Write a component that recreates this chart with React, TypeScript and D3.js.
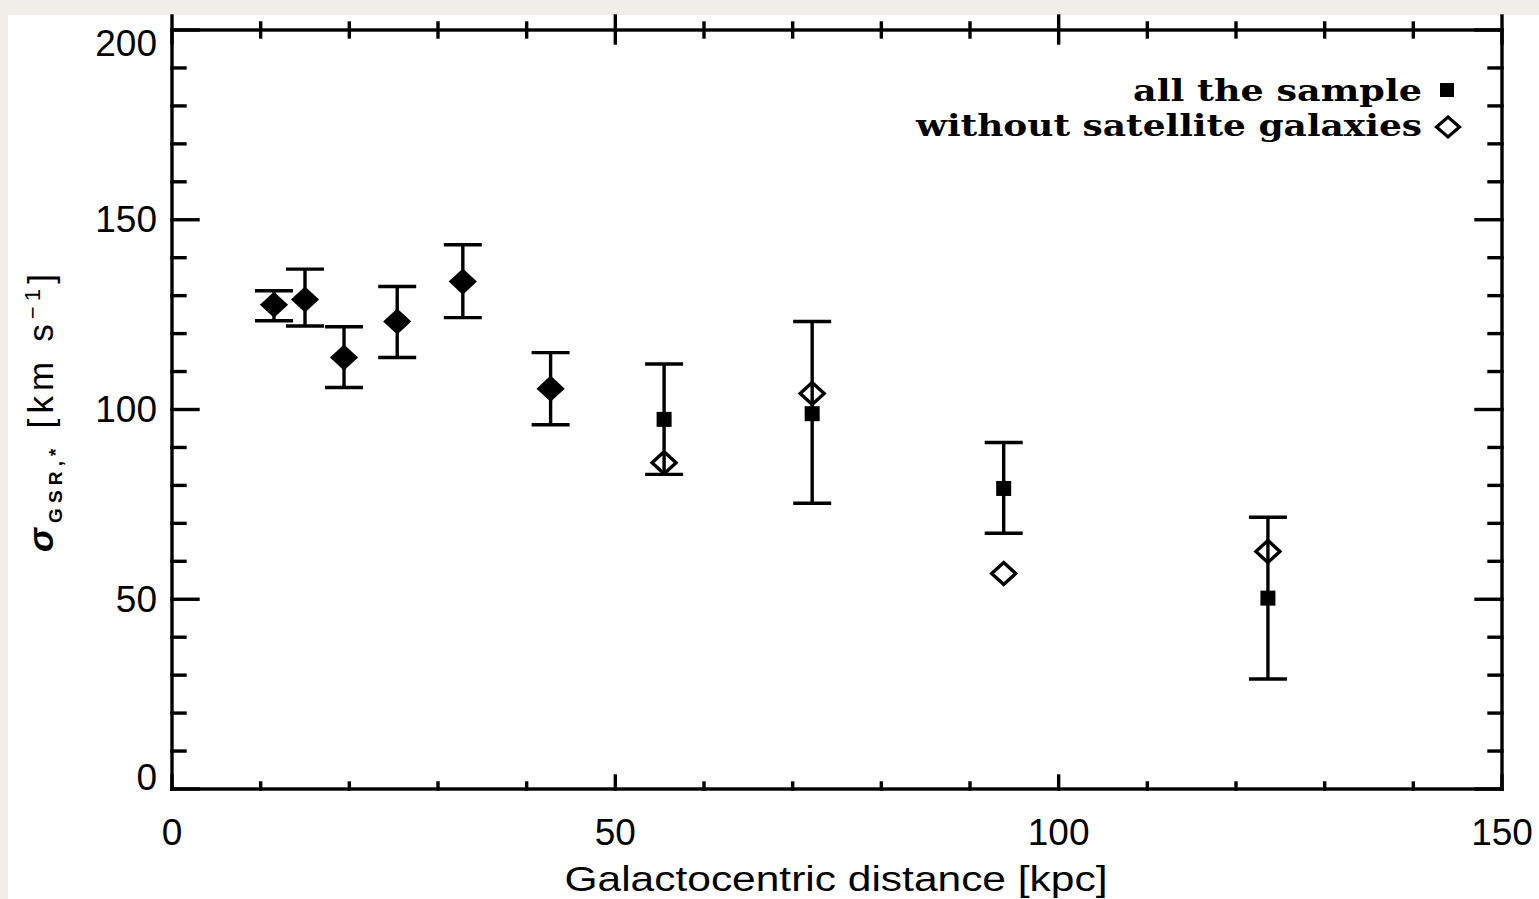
import React from "react";
import * as d3 from "d3";

const distance = [11.5, 15.0, 19.4, 25.4, 32.8, 42.7, 55.5, 72.2, 93.8, 123.6];
const allSample = [127.6, 129.0, 113.7, 123.2, 133.7, 105.5, 97.4, 98.9, 79.2, 50.3];
const withoutSat = [127.6, 129.0, 113.7, 123.2, 133.7, 105.5, 86.0, 104.2, 56.8, 62.6];
const errLow = [123.4, 122.0, 105.8, 113.7, 124.2, 96.0, 82.9, 75.3, 67.4, 29.0];
const errHigh = [131.3, 137.0, 121.8, 132.4, 143.4, 115.0, 112.0, 123.2, 91.3, 71.6];

const xMajor = [0, 50, 100, 150];
const yMajor = [0, 50, 100, 150, 200];

const W = 1539;
const H = 899;
const L = 172, R = 1502, T = 30, B = 789;

export default function App() {
  const x = d3.scaleLinear().domain([0, 150]).range([L, R]);
  const y = d3.scaleLinear().domain([0, 200]).range([B, T]);
  const xMinor = d3.range(0, 151, 10).filter((v) => v % 50 !== 0);
  const yMinor = d3.range(0, 201, 10).filter((v) => v % 50 !== 0);
  const sw = 3.4;
  const diamond = (cx: number, cy: number, hw: number, hh: number) =>
    `M${cx},${cy - hh}L${cx + hw},${cy}L${cx},${cy + hh}L${cx - hw},${cy}Z`;

  return (
    <div style={{ position: "fixed", left: 0, top: 0, width: W, height: H }}>
      <svg width={W} height={H} style={{ display: "block" }}>
        <rect x={0} y={0} width={W} height={H} fill="#f0eee9" />
        <rect x={8} y={15} width={W - 8} height={H - 15} fill="#ffffff" />
        <g stroke="#000" strokeWidth={sw} fill="none" strokeLinecap="square">
          <rect x={L} y={T} width={R - L} height={B - T} />
          {yMajor.map((v) => (
            <g key={"ym" + v}>
              <line x1={L} x2={L + 26} y1={y(v)} y2={y(v)} />
              <line x1={R} x2={R - 26} y1={y(v)} y2={y(v)} />
            </g>
          ))}
          {yMinor.map((v) => (
            <g key={"yn" + v}>
              <line x1={L} x2={L + 13} y1={y(v)} y2={y(v)} />
              <line x1={R} x2={R - 13} y1={y(v)} y2={y(v)} />
            </g>
          ))}
          {xMajor.map((v) => (
            <g key={"xm" + v}>
              <line x1={x(v)} x2={x(v)} y1={B} y2={B - 13} />
              <line x1={x(v)} x2={x(v)} y1={T - 14} y2={T + 13} />
            </g>
          ))}
          {xMinor.map((v) => (
            <g key={"xn" + v}>
              <line x1={x(v)} x2={x(v)} y1={B} y2={B - 6} />
              <line x1={x(v)} x2={x(v)} y1={T - 7} y2={T + 7} />
            </g>
          ))}
        </g>
        <g stroke="#000" strokeWidth={sw} fill="none">
          {distance.map((d, i) => (
            <g key={"e" + i}>
              <line x1={x(d)} x2={x(d)} y1={y(errLow[i])} y2={y(errHigh[i])} />
              <line x1={x(d) - 19} x2={x(d) + 19} y1={y(errLow[i])} y2={y(errLow[i])} />
              <line x1={x(d) - 19} x2={x(d) + 19} y1={y(errHigh[i])} y2={y(errHigh[i])} />
            </g>
          ))}
        </g>
        {distance.map((d, i) => {
          const same = Math.abs(allSample[i] - withoutSat[i]) < 0.01;
          if (same) {
            return (
              <path key={"f" + i} d={diamond(x(d), y(withoutSat[i]), 13, 12)} fill="#000" stroke="#000" strokeWidth={1.5} />
            );
          }
          return (
            <g key={"p" + i}>
              <rect x={x(d) - 7.5} y={y(allSample[i]) - 7.5} width={15} height={15} fill="#000" />
              <path d={diamond(x(d), y(withoutSat[i]), 12, 11)} fill="none" stroke="#000" strokeWidth={3.4} />
            </g>
          );
        })}
        <g fontFamily="'Liberation Sans', Arial, sans-serif" fontSize={37} fill="#000">
          {yMajor.map((v) => {
            const cy = Math.min(Math.max(y(v), T + 13), B - 12);
            return (
              <text key={"yl" + v} x={157} y={cy} textAnchor="end" dominantBaseline="central">
                {v}
              </text>
            );
          })}
          {xMajor.map((v) => (
            <text key={"xl" + v} x={x(v)} y={845} textAnchor="middle">
              {v}
            </text>
          ))}
        </g>
        <text x={836} y={891} textAnchor="middle" fontFamily="'Liberation Sans', Arial, sans-serif" fontSize={35} textLength={543} lengthAdjust="spacingAndGlyphs">
          Galactocentric distance [kpc]
        </text>
        <text transform="translate(53,413) rotate(-90)" textAnchor="middle" fontFamily="'Liberation Sans', Arial, sans-serif" fontSize={35} textLength={278} lengthAdjust="spacing">
          <tspan fontStyle="italic" fontWeight="bold" fontSize={36}>σ</tspan>
          <tspan fontSize={19} fontWeight="bold" dy={9}>GSR,*</tspan>
          <tspan dy={-9}>{" [km s"}</tspan>
          <tspan fontSize={22} dy={-13}>−1</tspan>
          <tspan dy={13}>]</tspan>
        </text>
        <g fontFamily="'DejaVu Serif', 'Liberation Serif', serif" fontWeight="bold" fontSize={30} fill="#000">
          <text x={1422} y={101} textAnchor="end" textLength={289} lengthAdjust="spacingAndGlyphs">
            all the sample
          </text>
          <text x={1422} y={136} textAnchor="end" textLength={506} lengthAdjust="spacingAndGlyphs">
            without satellite galaxies
          </text>
          <rect x={1440} y={83} width={14} height={14} fill="#000" />
          <path d={diamond(1448, 127, 11.5, 10)} fill="none" stroke="#000" strokeWidth={3.2} />
        </g>
      </svg>
    </div>
  );
}
